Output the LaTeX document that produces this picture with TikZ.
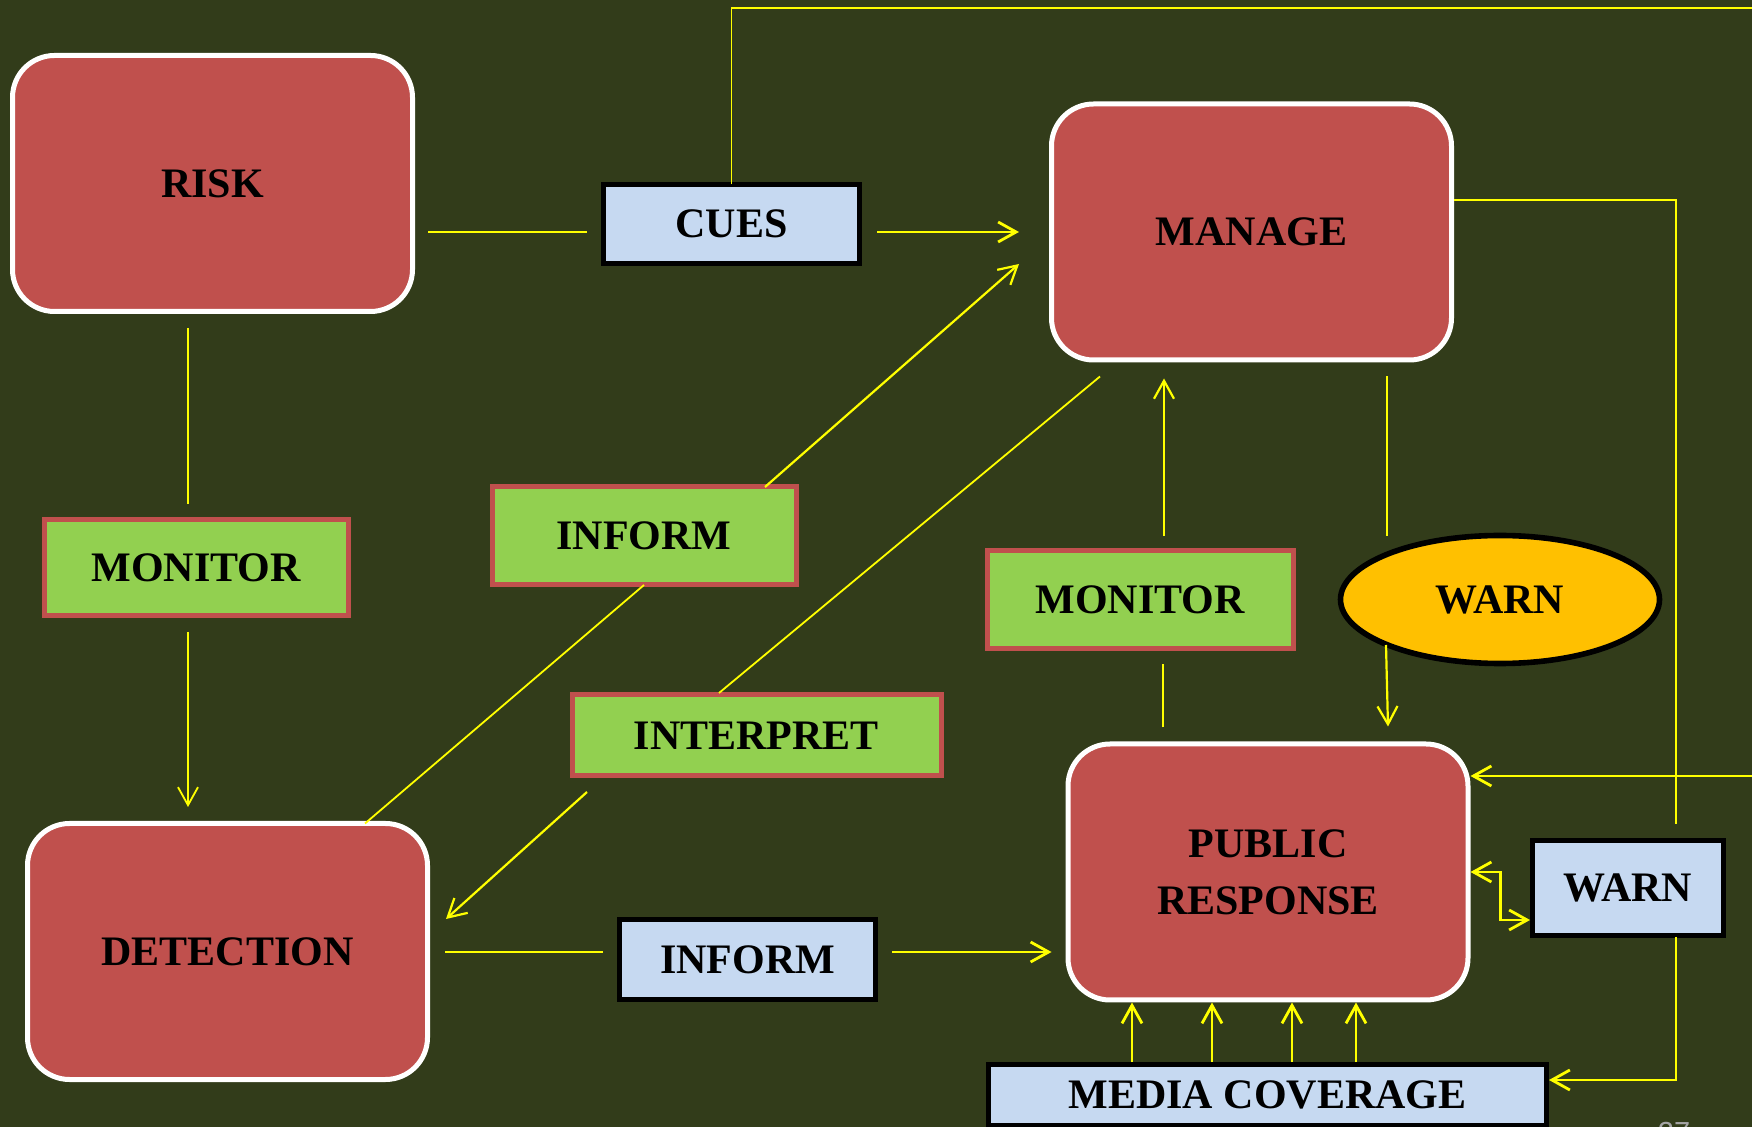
\documentclass[tikz,border=0pt]{standalone}
\usepackage{fontspec}
\setmainfont{Liberation Serif}
\newfontfamily\pgnumfont{Liberation Sans}
\usetikzlibrary{arrows.meta,calc,shapes.geometric}

\definecolor{bgolive}{RGB}{50,60,26}
\definecolor{boxred}{RGB}{192,80,77}
\definecolor{boxgreen}{RGB}{146,208,80}
\definecolor{boxblue}{RGB}{198,217,241}
\definecolor{warnorange}{RGB}{255,192,0}
\definecolor{lineyellow}{RGB}{255,255,0}
\definecolor{pagegray}{RGB}{165,165,165}

\begin{document}
\begin{tikzpicture}[x=0.5pt,y=-0.5pt,
  lbl/.style={font=\fontsize{21}{28.5}\selectfont\bfseries, text=black,
    inner sep=0pt, outer sep=0pt, align=center},
  bigbox/.style={lbl, rectangle, rounded corners=21pt, fill=boxred, draw=white,
    line width=2.5pt, minimum width=200pt, minimum height=128pt},
  greenbox/.style={lbl, rectangle, fill=boxgreen, draw=boxred, line width=2.5pt},
  bluebox/.style={lbl, rectangle, fill=boxblue, draw=black, line width=2.5pt},
  warnell/.style={lbl, ellipse, fill=warnorange, draw=black, line width=2.8pt,
    minimum width=159.5pt, minimum height=64pt},
  ln/.style={draw=lineyellow, line width=1.4pt},
  mid/.style={draw=lineyellow, line width=1.1pt},
  thin/.style={draw=lineyellow, line width=0.9pt},
  tip/.tip={Straight Barb[length=9pt,width=10pt]},
  arr/.style={ln, -tip},
  arrmid/.style={mid, -tip},
  arrthin/.style={thin, -tip}
]
\useasboundingbox (0,0) rectangle (1752,1127);
\fill[bgolive] (0,0) rectangle (1752,1127);
\clip (0,0) rectangle (1752,1127);

% main boxes
\node[bigbox] (risk)   at (212.5,183.5) {RISK};
\node[bigbox] (manage) at (1251.5,232)  {MANAGE};
\node[bigbox] (detect) at (227.5,951.5) {DETECTION};
\node[bigbox] (public) at (1268,872)    {PUBLIC\\RESPONSE};

% small boxes
\node[bluebox, minimum width=128pt, minimum height=39.5pt] (cues) at (731.5,224) {CUES};
\node[greenbox, minimum width=152pt, minimum height=48pt] (monL) at (196,568) {MONITOR};
\node[greenbox, minimum width=152pt, minimum height=49pt] (informG) at (644,536) {INFORM};
\node[greenbox, minimum width=184.5pt, minimum height=40.5pt] (interp) at (756.5,735.5) {INTERPRET};
\node[greenbox, minimum width=153pt, minimum height=49pt] (monR) at (1140,600) {MONITOR};
\node[warnell] (warnE) at (1500,599.5) {WARN};
\node[bluebox, minimum width=128pt, minimum height=40pt] (informB) at (747.5,959.5) {INFORM};
\node[bluebox, minimum width=95.5pt, minimum height=47.5pt] (warnB) at (1628,888) {WARN};
\node[bluebox, minimum width=279pt, minimum height=30.5pt] (media) at (1267.5,1095) {MEDIA COVERAGE};

% page number
\node[font=\pgnumfont\fontsize{14.5}{16}\selectfont, text=pagegray, anchor=base,
  inner sep=0pt] (pgnum) at (1674,1142) {27};

% free ends
\coordinate (topR) at (1752,8);
\coordinate (rightIn) at (1752,776);

% connectors
\draw[ln] ($(risk.east)+(15.5,48.5)$) -- ($(cues.west)+(-16.5,8)$);
\draw[arr] ($(cues.east)+(17.5,8)$) -- ($(manage.west)+(-32.5,0)$);
\draw[thin] (cues.north) |- (topR);
\draw[thin] ($(risk.south)+(-24.5,16.5)$) -- ($(monL.north)+(-8,-16)$);
\draw[arrthin] ($(monL.south)+(-8,16)$) -- ($(detect.north)+(-39.5,-16.5)$);
\draw[arrmid] ($(informG.north)+(121,0)$) -- ($(manage.west)+(-32.5,32)$);
\draw[thin] (informG.south) -- ($(detect.north)+(137.5,0)$);
\draw[thin] ($(manage.south)+(-151.5,16.5)$) -- ($(interp.north)+(-37.5,-2)$);
\draw[arrmid] ($(interp.south)+(-169.5,16)$) -- ($(detect.east)+(18.5,-32.5)$);
\draw[ln] ($(detect.east)+(17.5,0.5)$) -- ($(informB.west)+(-16.5,-7.5)$);
\draw[arr] ($(informB.east)+(16.5,-7.5)$) -- ($(public.west)+(-16.5,80)$);
\draw[arrmid] ($(monR.north)+(24,-15)$) -- ($(manage.south)+(-87.5,18.5)$);
\draw[thin] ($(public.north)+(-105,-16.5)$) -- ($(monR.south)+(23,15)$);
\draw[thin] ($(manage.south)+(135.5,16.5)$) -- ($(warnE.north)+(-113,0.5)$);
\draw[arrmid] ($(warnE.south)+(-114,-18.5)$) -- ($(public.north)+(120,-17.5)$);
\draw[thin] ($(manage.east)+(2.5,-32)$) -| ($(warnB.north)+(48,-16.5)$);
\draw[arr] (rightIn) -- ($(public.east)+(2.5,-96)$);
\draw[ln, tip-tip] ($(public.east)+(2.5,0)$) -- ++(30,0) |- ($(warnB.west)+(-2.5,32)$);
\draw[arr] ($(warnB.south)+(48,1.5)$) |- ($(media.east)+(2.5,-15)$);
\foreach \dm/\dp in {-135.5/-136, -55.5/-56, 24.5/24, 88.5/88}
  \draw[arr] ($(media.north)+(\dm,-2.5)$) -- ($(public.south)+(\dp,2.5)$);
\end{tikzpicture}
\end{document}
